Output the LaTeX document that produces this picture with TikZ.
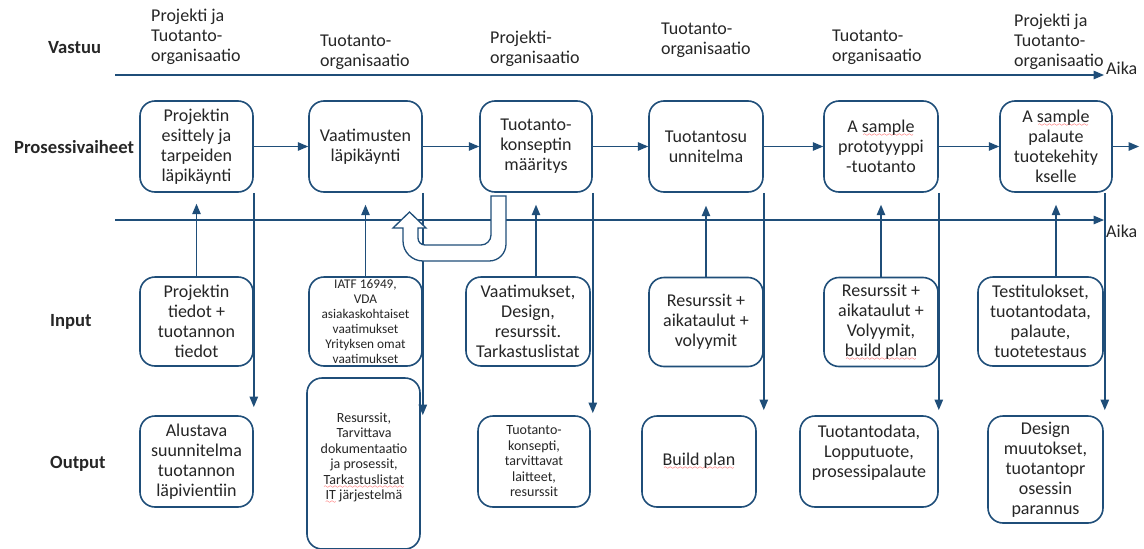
\documentclass[tikz,border=0pt]{standalone}
\usepackage{fontspec}
\setmainfont{Carlito}
\usepackage{tikz}
\usetikzlibrary{arrows}
\usetikzlibrary{positioning}
\usetikzlibrary{calc}
\definecolor{darkblue}{RGB}{31,78,121}
\definecolor{txtgray}{RGB}{38,38,38}
\font\wavefont=lasy6
\newcommand{\spellwave}[1]{\setbox0\hbox{#1}\leavevmode\rlap{\lower4pt\hbox to\wd0{\color{red}\cleaders\hbox{\wavefont\char58}\hfill}}\box0\relax}
\tikzset{phase/.style={rectangle, rounded corners=15pt, draw=darkblue, line width=1.6pt,
fill=white, align=center, inner sep=2pt, minimum width=113pt, minimum height=91pt,
font=\fontsize{18}{20}\selectfont},
inbox/.style={phase, minimum height=89pt},
outbox/.style={phase, minimum height=91pt},
smalltext/.style={font=\fontsize{13.3}{15}\selectfont},
smallout/.style={font=\fontsize{14}{15.5}\selectfont},
resp/.style={anchor=west, align=left, inner sep=0pt, font=\fontsize{18}{20}\selectfont},
rowname/.style={anchor=west, inner sep=0pt, font=\fontsize{18.6}{20}\selectfont\bfseries},
aika/.style={anchor=west, inner sep=0pt, font=\fontsize{18}{20}\selectfont},
flow/.style={->, draw=darkblue, line width=1.4pt},
>={triangle 45}}

\begin{document}
\begin{tikzpicture}[x=1pt, y=-1pt, every node/.append style={text=txtgray}]
  \useasboundingbox (0,0) rectangle (1144,549);

  \node (vastuu) [rowname] at (48,48) {Vastuu};
  \node (prosessi) [rowname] at (14,147) {Prosessivaiheet};
  \node (input) [rowname] at (50,322) {Input};
  \node (output) [rowname] at (50,464) {Output};

  \node (v1) [resp] at (151,37) {Projekti ja\\Tuotanto-\\organisaatio};
  \node (v2) [resp] at (320,52) {Tuotanto-\\organisaatio};
  \node (v3) [resp] at (490,49) {Projekti-\\organisaatio};
  \node (v4) [resp] at (661,40) {Tuotanto-\\organisaatio};
  \node (v5) [resp] at (832,47) {Tuotanto-\\organisaatio};
  \node (v6) [resp] at (1014,42) {Projekti ja\\Tuotanto-\\organisaatio};

  \coordinate (top0) at (115,75);
  \coordinate (top1) at (1104,75);
  \node (aika1) [aika] at (1106,68) {Aika};
  \coordinate (low0) at (115,220);
  \coordinate (low1) at (1104,220);
  \node (aika2) [aika] at (1106,231) {Aika};
  \draw [flow] (top0) -- (top1);
  \draw [flow] (low0) -- (low1);

  \node (p1) [phase] at (196.5,146.5) {Projektin\\esittely ja\\tarpeiden\\läpikäynti};
  \node (p2) [phase] at (365.5,146.5) {Vaatimusten\\läpikäynti};
  \node (p3) [phase, minimum width=112pt] at (536,146.5) {Tuotanto-\\konseptin\\määritys};
  \node (p4) [phase, minimum width=114pt] at (706,146.5) {Tuotantosu\\unnitelma};
  \node (p5) [phase, minimum width=114pt] at (881,146.5) {A \spellwave{sample}\\prototyyppi\\-tuotanto};
  \node (p6) [phase, minimum width=112pt] at (1056,146.5) {A \spellwave{sample}\\palaute\\tuotekehity\\kselle};

  \node (i1) [inbox] at (196.5,321.5) {Projektin\\tiedot +\\tuotannon\\tiedot};
  \node (i2) [inbox, smalltext] at (365.5,321.5) {IATF 16949,\\VDA\\asiakaskohtaiset\\vaatimukset\\Yrityksen omat\\vaatimukset};
  \node (i3) [inbox, minimum width=124pt] at (528,321.5) {Vaatimukset,\\Design,\\resurssit.\\Tarkastuslistat};
  \node (i4) [inbox, minimum width=114pt] at (706,322) {Resurssit +\\aikataulut +\\volyymit};
  \node (i5) [inbox, minimum width=114pt] at (881,322) {Resurssit +\\aikataulut +\\Volyymit,\\\spellwave{build plan}};
  \node (i6) [inbox, minimum width=125pt] at (1040.5,321.5) {Testitulokset,\\tuotantodata,\\palaute,\\tuotetestaus};

  \node (o1) [outbox] at (196.5,461.5) {Alustava\\suunnitelma\\tuotannon\\läpivientiin};
  \node (o2) [outbox, minimum height=171pt] at (363.5,463.5) {};
  \node (o2txt) [smallout, align=center] at (364,458) {Resurssit,\\Tarvittava\\dokumentaatio\\ja prosessit,\\\spellwave{Tarkastuslistat}\\\spellwave{IT} järjestelmä};
  \node (o3) [outbox, minimum width=112pt, smallout] at (534,461.5) {Tuotanto-\\konsepti,\\tarvittavat\\laitteet,\\resurssit};
  \node (o4) [outbox, minimum width=114pt] at (699,461.5) {\spellwave{Build plan}};
  \node (o5) [outbox, minimum width=138pt] at (869,461.5) {Tuotantodata,\\Lopputuote,\\prosessipalaute\\\mbox{}};
  \node (o6) [outbox, minimum width=115pt, minimum height=107pt] at (1045.5,469.5) {Design\\muutokset,\\tuotantopr\\osessin\\parannus};

  % process flow
  \coordinate (pend) at (1139,146.5);
  \draw [flow] (p1) -- (p2);
  \draw [flow] (p2) -- (p3);
  \draw [flow] (p3) -- (p4);
  \draw [flow] (p4) -- (p5);
  \draw [flow] (p5) -- (p6);
  \draw [flow] (p6.east) -- (pend);

  % inputs up
  \draw [flow, shorten >=11pt] (i1.north) -- (p1.south);
  \draw [flow, shorten >=12pt] (i2.north) -- (p2.south);
  \draw [flow, shorten >=12pt] (p3.south |- i3.north) -- (p3.south);
  \draw [flow, shorten >=13pt] (i4.north) -- (p4.south);
  \draw [flow, shorten >=12pt] (i5.north) -- (p5.south);
  \draw [flow, shorten >=12pt] (p6.south |- i6.north) -- (p6.south);

  % outputs down
  \coordinate (c6) at ([xshift=-8pt]p6.south east);
  \draw [flow] (p1.south east) -- (p1.south east |- 0,407);
  \draw [flow] (p2.south east) -- (p2.south east |- 0,415);
  \draw [flow] (p3.south east) -- (p3.south east |- 0,413);
  \draw [flow] (p4.south east) -- (p4.south east |- 0,410);
  \draw [flow] (p5.south east) -- (p5.south east |- 0,410);
  \draw [flow] (c6) -- (c6 |- 0,410);

  % back to requirements
  \draw [darkblue, line width=1.3pt, fill=white] (491,196) -- (506,196) -- (506,244)
    .. controls (506,253) and (499,261) .. (489,261) -- (423,261)
    .. controls (412,261) and (403,252) .. (403,241) -- (403,228) -- (393,228)
    -- (409.5,212) -- (426,228) -- (418,228) -- (418,238)
    .. controls (418,242) and (421,245) .. (425,245) -- (481,245)
    .. controls (486.5,245) and (491,240.5) .. (491,235) -- cycle;
\end{tikzpicture}
\end{document}
